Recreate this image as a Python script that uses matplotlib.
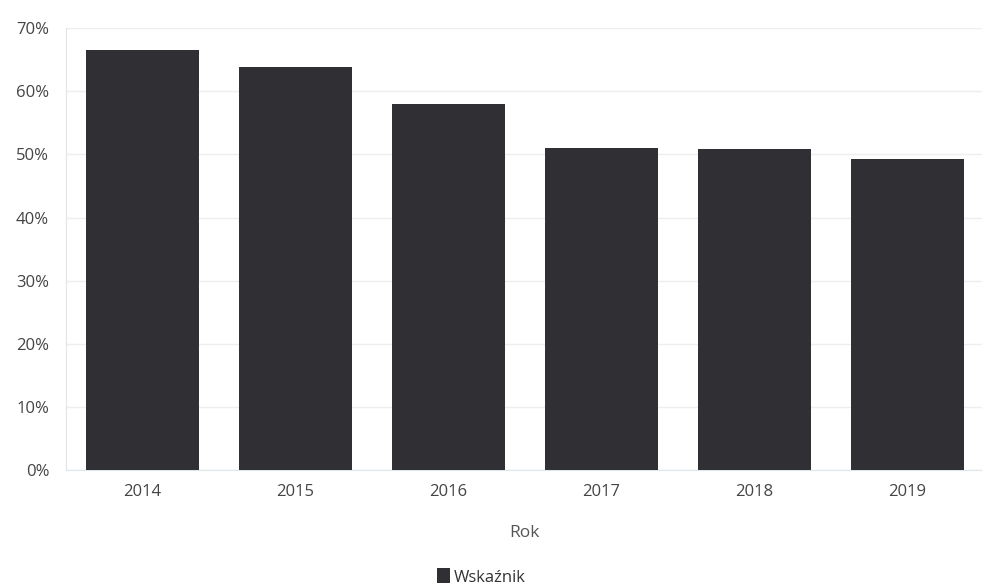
import matplotlib
matplotlib.use("Agg")
import matplotlib.pyplot as plt
from matplotlib.patches import Patch
from matplotlib.ticker import PercentFormatter

# data
years = ["2014", "2015", "2016", "2017", "2018", "2019"]
values = [66.5, 63.8, 58.0, 51.0, 50.8, 49.3]
y_ticks = [0, 10, 20, 30, 40, 50, 60, 70]

plt.rcParams['font.family'] = ['Open Sans', 'DejaVu Sans']

fig = plt.figure(figsize=(9.82, 5.87), dpi=100)
ax = fig.add_axes([0.067, 0.199, 0.935, 0.753])

bar_color = '#2f2f34'
ax.bar(years, values, width=0.74, color=bar_color, zorder=3)

ax.set_ylim(0, 70)
ax.set_xlim(-0.5, len(years) - 0.5)
ax.set_yticks(y_ticks)
ax.yaxis.set_major_formatter(PercentFormatter(decimals=0))
ax.grid(axis='y', color='#eeeeee', linewidth=1, zorder=0)

for side in ['top', 'right']:
    ax.spines[side].set_visible(False)
ax.spines['left'].set_color('#e4e4e4')
ax.spines['bottom'].set_color('#dfe6ee')

ax.tick_params(axis='both', length=0, labelsize=12, colors='#444444')
ax.tick_params(axis='x', pad=10)
ax.tick_params(axis='y', pad=12)

ax.set_xlabel('Rok', fontsize=12.5, color='#555555', labelpad=18)

handles = [Patch(facecolor=bar_color, label='Wskaźnik')]
fig.legend(handles=handles, loc='center', bbox_to_anchor=(0.49, 0.017),
           frameon=False, fontsize=12, handlelength=0.8, handleheight=1.0,
           handletextpad=0.2, labelcolor='#333333')

fig.savefig('out.png', dpi=100, facecolor='white')
